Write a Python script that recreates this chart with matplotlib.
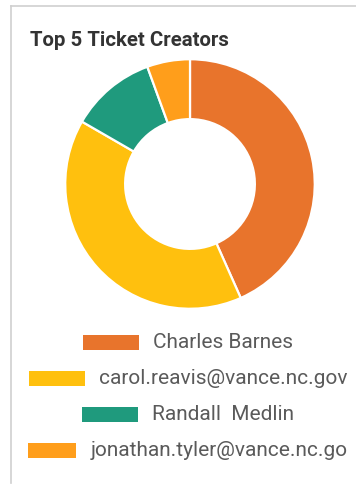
import matplotlib
matplotlib.use("Agg")
import matplotlib.pyplot as plt
from matplotlib.patches import Rectangle
from matplotlib.lines import Line2D

# Ticket counts per creator
creators = ["Charles Barnes", "carol.reavis@vance.nc.gov", "Randall  Medlin",
            "jonathan.tyler@vance.nc.go"]
tickets = [39, 36, 10, 5]
colors = ["#E8742C", "#FFC00E", "#1F9A7D", "#FF9E1B"]

title = "Top 5 Ticket Creators"

W, H, DPI = 356, 486, 100
fig = plt.figure(figsize=(W / DPI, H / DPI), dpi=DPI)
fig.patch.set_facecolor("white")

def fx(px):
    return px / W

def fy(py):
    return 1 - py / H

# Card outline (left and top edges)
fig.add_artist(Line2D([fx(11), fx(11)], [fy(6), fy(483)], color="#cfcfcf", lw=1.2))
fig.add_artist(Line2D([fx(11), fx(356)], [fy(6), fy(6)], color="#cfcfcf", lw=1.2))

fig.text(fx(30), fy(46), title, fontsize=14.7, fontweight="bold",
         family="Roboto", color="#333333", ha="left", va="baseline")

# Donut
cx, cy, r = 190, 184, 126
ax = fig.add_axes([fx(cx - r), fy(cy + r), (2 * r) / W, (2 * r) / H])
ax.pie(tickets, colors=colors, startangle=90, counterclock=False, radius=1,
       wedgeprops=dict(width=0.48, edgecolor="white", linewidth=1.6))
ax.set_xlim(-1.01, 1.01)
ax.set_ylim(-1.01, 1.01)
ax.set_aspect("equal")
ax.axis("off")

# Centered legend rows
renderer = fig.canvas.get_renderer()
row_y = [342, 378, 414, 450]
box_ws = [56, 56, 56, 48]
box_h, gap = 15, 14
center = 188
for name, col, y, bw in zip(creators, colors, row_y, box_ws):
    t = fig.text(0, fy(y), name, fontsize=15, family="Roboto",
                 color="#5a5a5a", ha="left", va="center")
    tw = t.get_window_extent(renderer).width
    total = bw + gap + tw
    x0 = center - total / 2
    t.set_x(fx(x0 + bw + gap))
    fig.add_artist(Rectangle((fx(x0), fy(y + box_h / 2)), bw / W, box_h / H,
                             transform=fig.transFigure, facecolor=col,
                             edgecolor="none"))

fig.savefig("out.png", dpi=DPI)
